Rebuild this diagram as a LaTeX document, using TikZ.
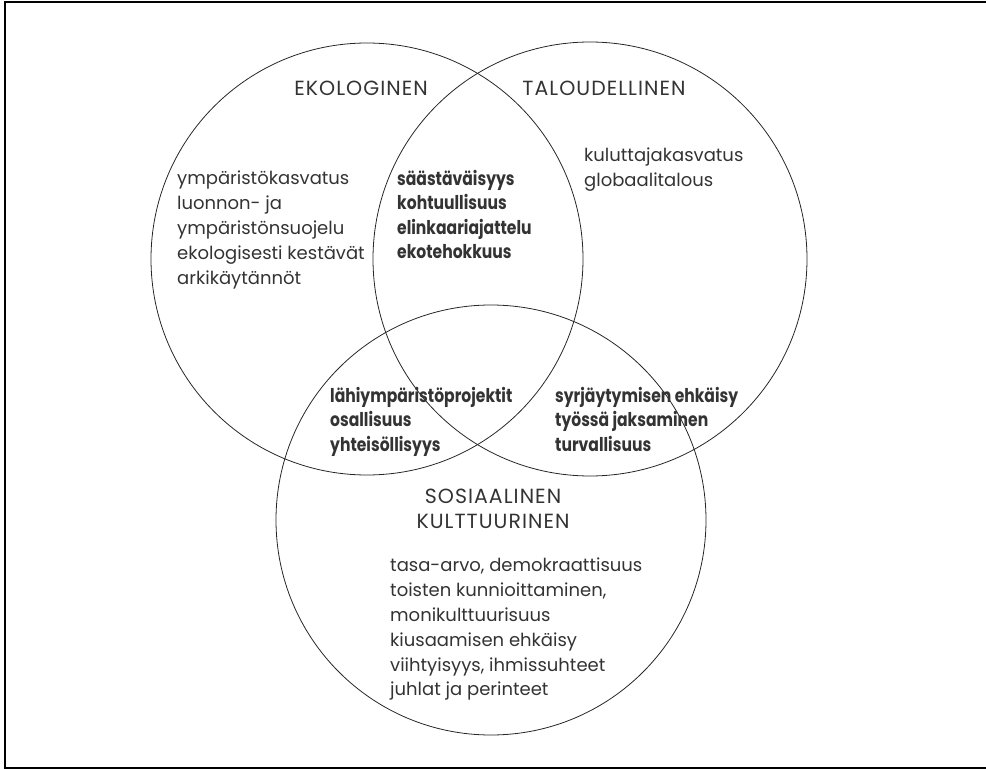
\documentclass[tikz,border=0pt]{standalone}
\usepackage{fontspec}
\setmainfont{Poppins}
\newfontfamily\bcond{Poppins}[FakeStretch=0.82]
\newfontfamily\headfont{Poppins}[LetterSpace=5]
\begin{document}
\begin{tikzpicture}[x=1pt,y=-1pt,
  ring/.style={circle,draw=black!85,line width=0.8pt,inner sep=0pt,minimum size=#1},
  head/.style={font=\headfont\fontsize{20.5}{25}\selectfont,text=black!80,inner sep=0pt,align=center},
  plain/.style={font=\fontsize{18}{24.8}\selectfont,text=black!80,inner sep=0pt,align=left,anchor=north west},
  strong/.style={font=\bcond\bfseries\fontsize{19}{24.3}\selectfont,text=black!80,inner sep=0pt,align=left,anchor=north west},
  frameline/.style={line width=2pt,black}]
\useasboundingbox (0,0) rectangle (986,770);
\coordinate (fa) at (986,768);
\coordinate (fb) at (5,768);
\coordinate (fc) at (5,2);
\coordinate (fd) at (986,2);
\draw[frameline] (fa) -- (fb) -- (fc) -- (fd);
\node[ring=432pt] (eko) at (367,259) {};
\node[ring=434pt] (tal) at (590,259) {};
\node[ring=430pt] (sos) at (491,520) {};
\node[head] (ekoh) at (361,88) {EKOLOGINEN};
\node[head] (talh) at (604,88) {TALOUDELLINEN};
\node[head] (sosh) at (493,509) {SOSIAALINEN\\KULTTUURINEN};
\node[plain] (ekot) at (177,171) {ympäristökasvatus\\luonnon- ja\\ympäristönsuojelu\\ekologisesti kestävät\\arkikäytännöt};
\node[plain] (talt) at (584,148) {kuluttajakasvatus\\globaalitalous};
\node[plain] (sost) at (390,558) {tasa-arvo, demokraattisuus\\toisten kunnioittaminen,\\monikulttuurisuus\\kiusaamisen ehkäisy\\viihtyisyys, ihmissuhteet\\juhlat ja perinteet};
\node[strong] (et) at (397,170) {säästäväisyys\\kohtuullisuus\\elinkaariajattelu\\ekotehokkuus};
\node[strong] (es) at (330,387) {lähiympäristöprojektit\\osallisuus\\yhteisöllisyys};
\node[strong] (ts) at (555,387) {syrjäytymisen ehkäisy\\työssä jaksaminen\\turvallisuus};
\end{tikzpicture}
\end{document}
